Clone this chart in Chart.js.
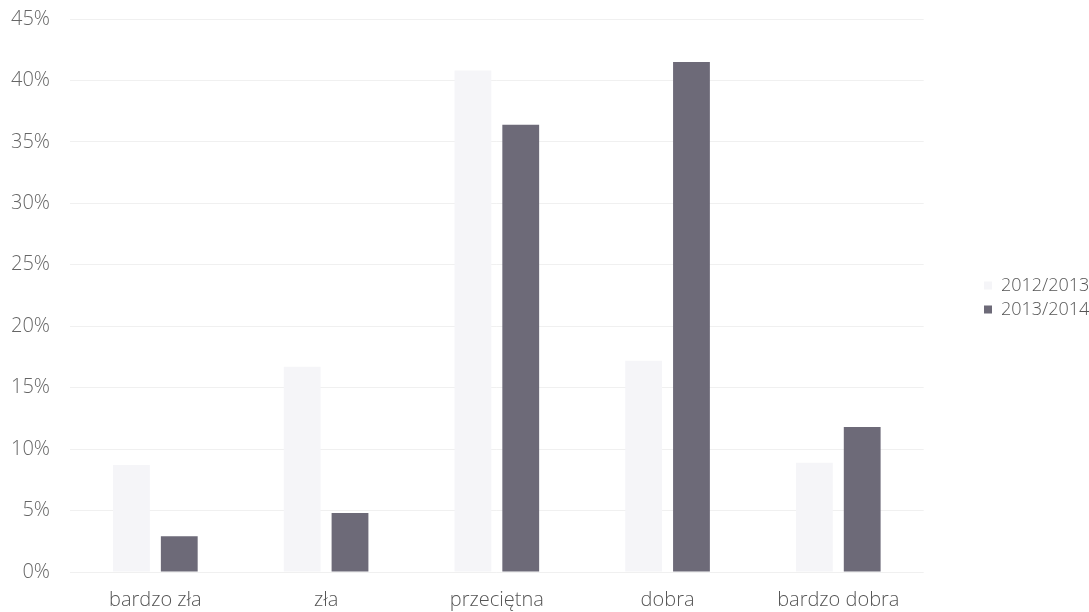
<!DOCTYPE html>
<html>
<head>
<meta charset="utf-8">
<script src="https://cdn.jsdelivr.net/npm/chart.js@4/dist/chart.umd.min.js"></script>
<style>
  html, body { margin: 0; padding: 0; background: #fff; }
  #wrap { width: 1089px; height: 612px; }
</style>
</head>
<body>
<div id="wrap"><canvas id="chartOceny"></canvas></div>
<script>
// Oceny - dane
const kategorie = ['bardzo zła', 'zła', 'przeciętna', 'dobra', 'bardzo dobra'];
const rok2012 = [8.7, 16.7, 40.8, 17.2, 8.9];
const rok2013 = [2.9, 4.8, 36.4, 41.5, 11.8];
const ticksY = [0, 5, 10, 15, 20, 25, 30, 35, 40, 45];

const font = "'Open Sans', 'DejaVu Sans', sans-serif";
Chart.defaults.font.family = font;
Chart.defaults.color = '#666';

// przesuwa legendę (odstęp od obszaru wykresu)
const legendShift = {
  id: 'legendShift',
  afterLayout(chart) {
    const l = chart.legend;
    if (!l) return;
    const dx = 984 - 6 - l.left;
    l.left += dx;
    l.right += dx;
    l.top -= 18;
    l.bottom -= 18;
  }
};

const ctx = document.getElementById('chartOceny').getContext('2d');
new Chart(ctx, {
  type: 'bar',
  data: {
    labels: kategorie,
    datasets: [{
      label: '2012/2013',
      data: rok2012,
      backgroundColor: '#f5f5f8',
      barPercentage: 0.77,
      categoryPercentage: 0.56
    }, {
      label: '2013/2014',
      data: rok2013,
      backgroundColor: '#6d6a78',
      barPercentage: 0.77,
      categoryPercentage: 0.56
    }]
  },
  plugins: [legendShift],
  options: {
    responsive: true,
    maintainAspectRatio: false,
    animation: false,
    layout: { padding: { top: 19, right: 44, left: 6, bottom: 0 } },
    plugins: {
      tooltip: { enabled: false },
      legend: {
        position: 'right',
        align: 'center',
        labels: {
          boxWidth: 8,
          boxHeight: 8,
          padding: 6,
          font: { size: 18, weight: '300' },
          color: '#555'
        }
      }
    },
    scales: {
      x: {
        afterFit: (axis) => { axis.height = 40; },
        grid: { display: false, drawTicks: false },
        border: { display: false },
        ticks: { font: { size: 20, weight: '300' }, color: '#555', padding: 16 }
      },
      y: {
        min: 0,
        max: 45,
        afterBuildTicks: (axis) => { axis.ticks = ticksY.map(v => ({ value: v })); },
        afterFit: (axis) => { axis.width = 64; axis.paddingTop = 0; axis.paddingBottom = 0; },
        grid: { color: '#f0f0f0', drawTicks: false },
        border: { display: false },
        ticks: {
          font: { size: 20, weight: '300' },
          color: '#666',
          padding: 20,
          callback: (v) => v + '%'
        }
      }
    }
  }
});
</script>
</body>
</html>
